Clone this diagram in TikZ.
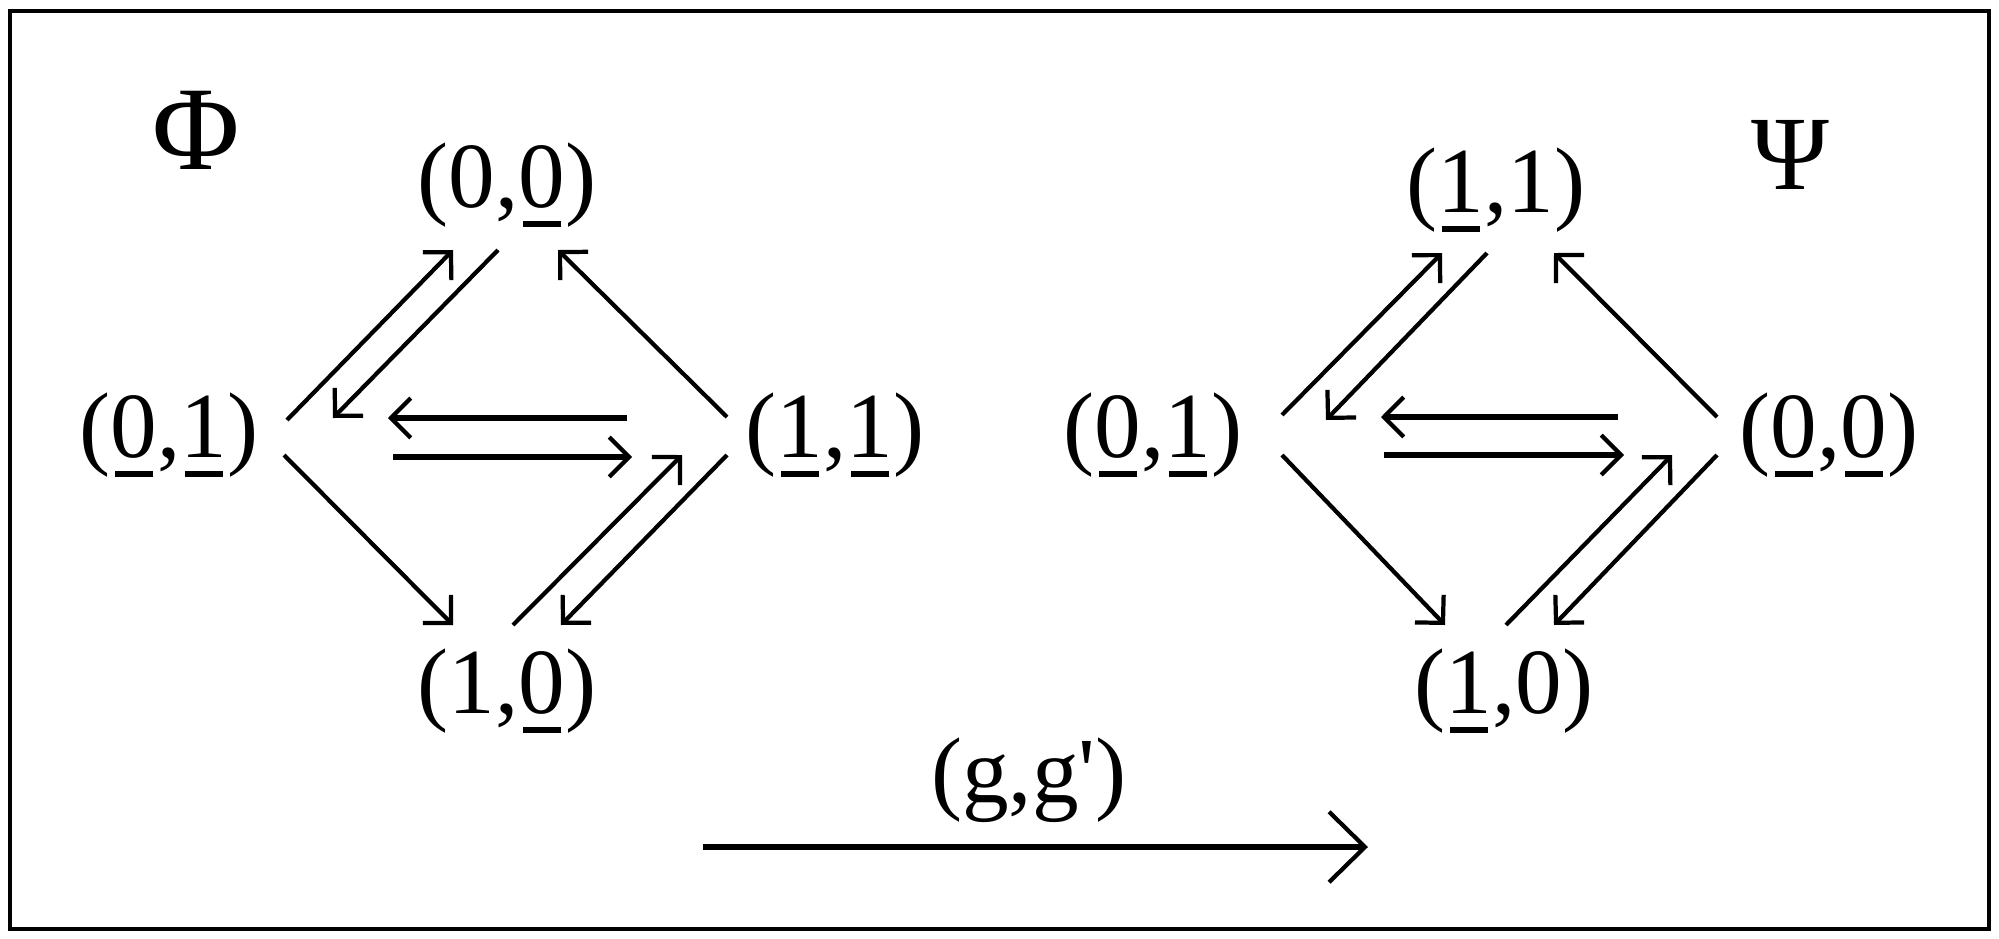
\documentclass[tikz,border=0pt]{standalone}
\usepackage{fontspec}
\setmainfont{Liberation Serif}
\usetikzlibrary{arrows.meta,calc}
\newcommand\ubar[1]{\setbox0\hbox{#1}\rlap{\hbox to \wd0{\hss\rule[-5.5pt]{0.8\wd0}{1.6pt}\hss}}#1}
\begin{document}
\begin{tikzpicture}[x=0.01cm,y=-0.01cm,
  lbl/.style={inner sep=0pt,font=\fontsize{26.5}{30}\selectfont},
  greek/.style={inner sep=0pt,font=\fontsize{30}{34}\selectfont},
  diag/.style={line width=1.2pt,-{Straight Barb[length=5.6pt,width=11.3pt,line width=1.2pt]}},
  horiz/.style={line width=1.8pt,-{Straight Barb[length=5.6pt,width=11.3pt,line width=1.2pt]}},
  big/.style={line width=1.8pt,-{Straight Barb[length=10.2pt,width=20pt,line width=1.2pt]}},
  frame/.style={line width=1.4pt}]
\useasboundingbox (0,0) rectangle (1999,939);
\draw[frame] (10,11) rectangle (1989,929);
% labels
\node[greek,font=\fontsize{34}{38}\selectfont] (phi) at (196,130) {Φ};
\node[greek] (psi) at (1790,155) {Ψ};
% left diagram
\node[lbl] (a00) at (507,185) {(0,\ubar{0})};
\node[lbl] (a01) at (169,435) {(\ubar{0},\ubar{1})};
\node[lbl] (a11) at (835,435) {(\ubar{1},\ubar{1})};
\node[lbl] (a10) at (507,691) {(1,\ubar{0})};
% right diagram
\node[lbl] (b11) at (1496,190) {(\ubar{1},1)};
\node[lbl] (b01) at (1153,435) {(\ubar{0},\ubar{1})};
\node[lbl] (b00) at (1829,435) {(\ubar{0},\ubar{0})};
\node[lbl] (b10) at (1504,691) {(\ubar{1},0)};
% bottom map
\node[lbl] (gg) at (1029,780) {(g,g\textquotesingle)};
\coordinate (gs) at (703,847);
\coordinate (ge) at (1368,847);
% left arrows
\draw[diag] ($(a01)+(118,-15)$) -- ($(a00)+(-54,65)$);
\draw[diag] ($(a00)+(-9,65)$) -- ($(a01)+(164,-17)$);
\draw[diag] ($(a11)+(-108,-18)$) -- ($(a00)+(51,65)$);
\draw[diag] ($(a01)+(115,20)$) -- ($(a10)+(-54,-66)$);
\draw[diag] ($(a10)+(6,-66)$) -- ($(a11)+(-153,20)$);
\draw[diag] ($(a11)+(-108,20)$) -- ($(a10)+(54,-66)$);
\draw[horiz] ($(a11)+(-208,-17)$) -- ($(a01)+(219,-17)$);
\draw[horiz] ($(a01)+(224,22)$) -- ($(a11)+(-203,22)$);
% right arrows
\draw[diag] ($(b01)+(129,-20)$) -- ($(b11)+(-54,63)$);
\draw[diag] ($(b11)+(-9,63)$) -- ($(b01)+(173,-15)$);
\draw[diag] ($(b00)+(-112,-18)$) -- ($(b11)+(58,63)$);
\draw[diag] ($(b01)+(129,20)$) -- ($(b10)+(-59,-66)$);
\draw[diag] ($(b10)+(2,-66)$) -- ($(b00)+(-157,20)$);
\draw[diag] ($(b00)+(-112,20)$) -- ($(b10)+(50,-66)$);
\draw[horiz] ($(b00)+(-211,-18)$) -- ($(b01)+(228,-18)$);
\draw[horiz] ($(b01)+(231,20)$) -- ($(b00)+(-205,20)$);
% bottom arrow
\draw[big] (gs) -- (ge);
\end{tikzpicture}
\end{document}
